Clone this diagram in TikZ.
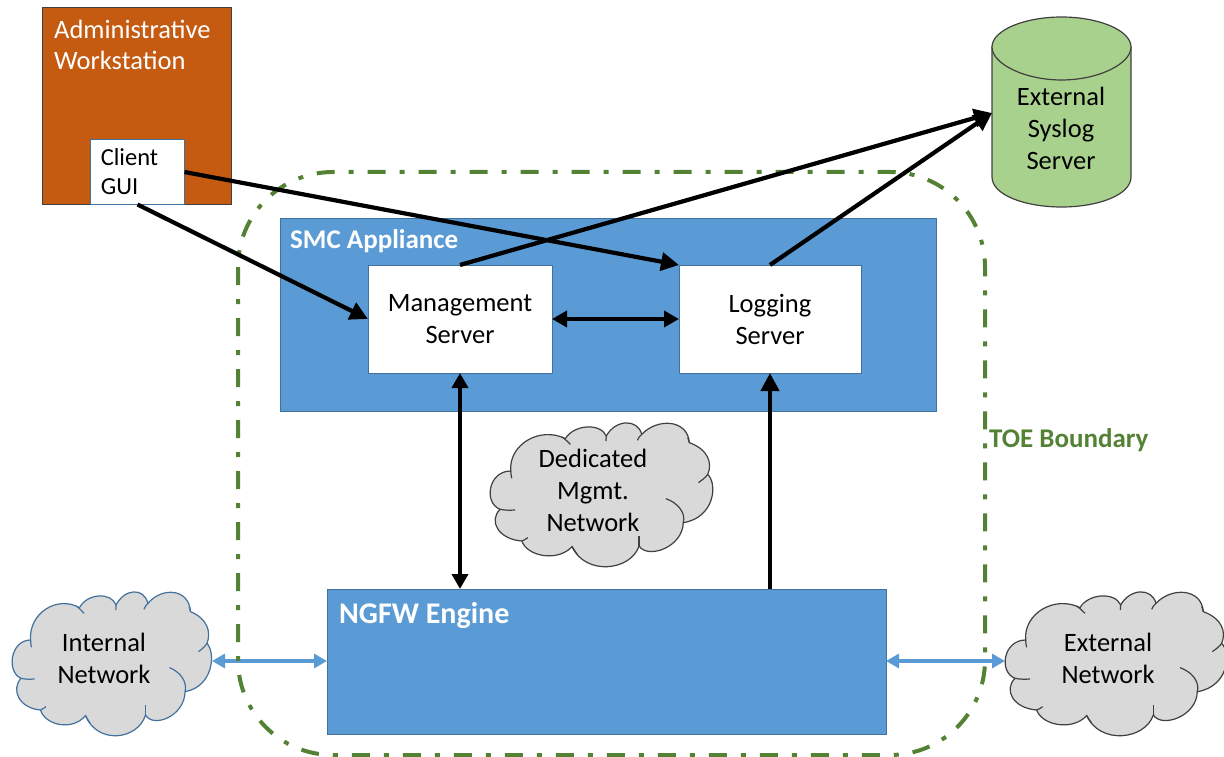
\documentclass[tikz,border=0pt]{standalone}
\usepackage{fontspec}
\setmainfont{Carlito}
\usetikzlibrary{arrows.meta,calc}
\definecolor{orangebox}{HTML}{C55A11}
\definecolor{bluebox}{HTML}{5B9BD5}
\definecolor{blueedge}{HTML}{41719C}
\definecolor{toegreen}{HTML}{548235}
\definecolor{cylgreen}{HTML}{A9D18E}
\definecolor{cloudfill}{HTML}{D9D9D9}
\definecolor{darkedge}{HTML}{404040}
\tikzset{
  x=1pt,y=-1pt,
  box/.style={draw=blueedge,line width=1pt,fill=bluebox,inner sep=0pt,outer sep=0pt,anchor=north west},
  whitebox/.style={box,fill=white,align=center,font=\fontsize{26.5}{32}\selectfont,text=black},
  blacklink/.style={draw=black,line width=4.2pt,-{Triangle[length=18pt,width=18pt]}},
  blacklinkboth/.style={draw=black,line width=4.2pt,{Triangle[length=15pt,width=16pt]}-{Triangle[length=15pt,width=16pt]}},
  bluelink/.style={draw=bluebox,line width=3.2pt,{Triangle[length=13pt,width=14pt]}-{Triangle[length=13pt,width=14pt]}},
  boundary/.style={draw=toegreen,line width=4pt,dash pattern=on 18pt off 14pt on 5pt off 14pt},
  cloudtext/.style={align=center,font=\fontsize{26.5}{32}\selectfont,text=black,inner sep=0pt,outer sep=0pt},
  cloudshape/.style={fill=cloudfill,draw=#1,line width=1.2pt},
  cloudline/.style={draw=#1,line width=1.2pt,fill=none}
}
\newcommand{\cloudat}[5]{%
\begin{scope}[shift={(#1,#2)},x=#3pt,y=-#4pt]
  \draw[cloudshape=#5]
    (62,150) .. controls (55,70) and (150,15) .. (225,53)
    .. controls (250,10) and (330,5) .. (347,45)
    .. controls (375,-5) and (440,-8) .. (453,40)
    .. controls (500,-10) and (590,-5) .. (595,65)
    .. controls (650,85) and (665,125) .. (650,160)
    .. controls (680,190) and (670,290) .. (577,305)
    .. controls (575,380) and (470,415) .. (445,375)
    .. controls (420,450) and (285,465) .. (245,377)
    .. controls (200,425) and (110,405) .. (95,360)
    .. controls (25,355) and (-5,300) .. (30,265)
    .. controls (-20,245) and (-5,150) .. (62,150) -- cycle;
  \draw[cloudline=#5] (215,48) .. controls (225,55) and (232,62) .. (240,70);
  \draw[cloudline=#5] (347,45) .. controls (345,50) and (345,55) .. (346,60);
  \draw[cloudline=#5] (453,40) .. controls (447,45) and (443,50) .. (440,58);
  \draw[cloudline=#5] (595,65) .. controls (595,60) and (592,55) .. (590,50);
  \draw[cloudline=#5] (650,160) .. controls (643,170) and (632,178) .. (622,185);
  \draw[cloudline=#5] (525,233) .. controls (560,245) and (585,275) .. (577,305);
  \draw[cloudline=#5] (445,375) .. controls (445,365) and (445,355) .. (445,345);
  \draw[cloudline=#5] (245,377) .. controls (250,385) and (255,392) .. (260,400);
  \draw[cloudline=#5] (95,360) .. controls (100,358) and (107,355) .. (113,350);
  \draw[cloudline=#5] (30,265) .. controls (45,268) and (60,268) .. (75,267);
  \draw[cloudline=#5] (62,150) .. controls (62,155) and (63,165) .. (65,172);
\end{scope}}
\begin{document}
\begin{tikzpicture}
\useasboundingbox (0,0) rectangle (1224,757);
% clouds
\cloudat{1005}{590}{0.3333}{0.3333}{darkedge}
\cloudat{12}{590}{0.3}{0.3333}{blueedge}
\cloudat{490}{421}{0.335}{0.3333}{darkedge}
% boxes
\node[box,fill=orangebox,draw=darkedge,minimum width=189pt,minimum height=196pt] (admin) at (42,8) {};
\node[whitebox,minimum width=94pt,minimum height=65pt] (client) at (90.5,139.5) {};
\node[anchor=center,inner sep=0pt,align=left,font=\fontsize{24.5}{29}\selectfont,text=black] (clienttext) at (129.5,172) {Client\\GUI};
\node[anchor=north west,inner sep=0pt,align=left,font=\fontsize{26.5}{31}\selectfont,text=white] (admintext) at (54,20) {Administrative\\Workstation};
\node[box,minimum width=656pt,minimum height=193pt] (smc) at (280,218) {};
\node[anchor=west,inner sep=0pt,font=\bfseries\fontsize{27}{30}\selectfont,text=white] (smctext) at (290,241) {SMC Appliance};
\node[whitebox,minimum width=184pt,minimum height=108pt] (mgmt) at (368,265) {Management\\Server};
\node[whitebox,minimum width=182pt,minimum height=108pt] (logging) at (679,265) {Logging\\Server};
\node[box,minimum width=559pt,minimum height=145pt] (ngfw) at (327,589) {};
\node[anchor=west,inner sep=0pt,font=\bfseries\fontsize{30}{34}\selectfont,text=white] (ngfwtext) at (339,616) {NGFW Engine};
% cylinder
\node[inner sep=0pt,outer sep=0pt,minimum width=139pt,minimum height=190pt,anchor=north west] (syslog) at (992,17) {};
\draw[fill=cylgreen,draw=darkedge,line width=1.2pt] (992,47) -- (992,177) .. controls (992,195) and (1025,207) .. (1061.5,207) .. controls (1098,207) and (1131,195) .. (1131,177) -- (1131,47) -- cycle;
\draw[fill=cylgreen,draw=darkedge,line width=1.2pt] (992,47) .. controls (992,30) and (1025,17) .. (1061.5,17) .. controls (1098,17) and (1131,30) .. (1131,47) .. controls (1131,64) and (1098,80) .. (1061.5,80) .. controls (1025,80) and (992,64) .. (992,47) -- cycle;
\node[cloudtext] (syslogtext) at (1061,128) {External\\Syslog\\Server};
\coordinate (syslogin) at (992,113);
% cloud labels
\node[cloudtext] (internal) at (104,658) {Internal\\Network};
\node[cloudtext] (external) at (1108,658) {External\\Network};
\node[cloudtext] (dedicated) at (593,490) {Dedicated\\Mgmt.\\Network};
\coordinate (intport) at (212,661);
\coordinate (extport) at (1005,661);
% links
\draw[bluelink] (intport) -- (ngfw.west |- intport);
\draw[boundary,rounded corners=95pt] (238,172) rectangle (985,755);
\draw[bluelink] (ngfw.east |- extport) -- (extport);
\node[anchor=west,inner sep=0pt,font=\bfseries\fontsize{27}{30}\selectfont,text=toegreen] (toe) at (989,440) {TOE Boundary};
\draw[blacklink] (client.south) -- (mgmt.west);
\draw[blacklink] (client.east) -- (logging.north west);
\draw[blacklink] (mgmt.north) -- (syslogin);
\draw[blacklink] (logging.north) -- (syslogin);
\draw[blacklinkboth] (mgmt.east) -- (logging.west);
\draw[blacklinkboth] (mgmt.south) -- (mgmt.south |- ngfw.north);
\draw[blacklink] (logging.south |- ngfw.north) -- (logging.south);
\end{tikzpicture}
\end{document}
